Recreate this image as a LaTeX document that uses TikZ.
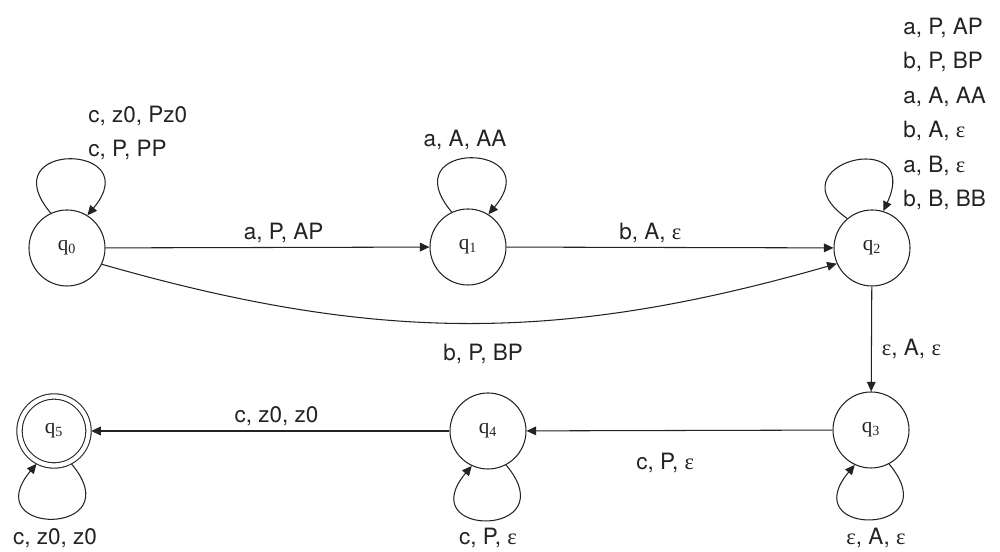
\documentclass[tikz,border=0pt]{standalone}
\usepackage{fontspec}
\setmainfont{TeX Gyre Heros}
\newfontfamily\serifq{Liberation Serif}
\newfontfamily\epsfam{Liberation Serif}
\newcommand{\myeps}{{\epsfam ε}}
\usetikzlibrary{arrows.meta}
\definecolor{ink}{RGB}{35,35,35}
\begin{document}
\begin{tikzpicture}[
  st/.style={circle, draw=ink, line width=0.6pt, minimum size=1.52cm, inner sep=0pt,
    font=\serifq\fontsize{12}{14}\selectfont, text=ink},
  acc/.style={st, minimum size=1.38cm, double, double distance=0.086cm, outer sep=0.054cm},
  tr/.style={draw=ink, line width=0.6pt, -{Triangle[length=5.5pt,width=5pt]}},
  lbl/.style={text=ink, font=\fontsize{12.8}{15}\selectfont, inner sep=0pt}]
\useasboundingbox (0,0) rectangle (20,11.04);
% states
\node[st] (q0) at (1.34,6.08) {q\textsubscript{0}};
\node[st] (q1) at (9.36,6.10) {q\textsubscript{1}};
\node[st] (q2) at (17.44,6.08) {q\textsubscript{2}};
\node[st] (q3) at (17.42,2.44) {q\textsubscript{3}};
\node[st] (q4) at (9.76,2.42) {q\textsubscript{4}};
\node[acc] (q5) at (1.08,2.42) {q\textsubscript{5}};
% transitions
\draw[tr] (q0) -- (q1) node[lbl, pos=0.55, anchor=base, yshift=0.15cm] (l01) {a, P, AP};
\draw[tr] (q1) -- (q2) node[lbl, pos=0.44, anchor=base, yshift=0.15cm] (l12) {b, A, \myeps};
\draw[tr] (q0.-25) to[out=-16, in=196] node[lbl, pos=0.52, anchor=base, yshift=-0.74cm] (l02) {b, P, BP} (q2.204);
\draw[tr] (q2) -- (q3) node[lbl, pos=0.656, anchor=base west, xshift=0.2cm] (l23) {\myeps, A, \myeps};
\draw[tr] (q3) -- (q4) node[lbl, pos=0.547, anchor=base, yshift=-0.78cm] (l34) {c, P, \myeps};
\draw[tr] (q4) -- (q5) node[lbl, pos=0.483, anchor=base, yshift=0.17cm] (l45) {c, z0, z0};
% loops
\draw[tr] (q0.115) .. controls +(130:1.9) and +(50:1.9) .. (q0.58);
\draw[tr] (q1.115) .. controls +(130:1.9) and +(50:1.9) .. (q1.58);
\draw[tr] (q2.130) .. controls +(145:1.9) and +(65:1.9) .. (q2.73);
\draw[tr] (q3.298) .. controls +(310:1.9) and +(230:1.9) .. (q3.245);
\draw[tr] (q4.298) .. controls +(310:1.9) and +(230:1.9) .. (q4.245);
\draw[tr] (q5.298) .. controls +(310:1.9) and +(230:1.9) .. (q5.242);
% loop labels
\node[lbl, anchor=base west] (lq0a) at (1.76,8.59) {c, z0, Pz0};
\node[lbl, anchor=base west] (lq0b) at (1.76,7.91) {c, P, PP};
\node[lbl, anchor=base] (lq1) at (9.30,8.11) {a, A, AA};
\node[lbl, anchor=base west] (lq2a) at (18.06,10.35) {a, P, AP};
\node[lbl, anchor=base west] (lq2b) at (18.06,9.66) {b, P, BP};
\node[lbl, anchor=base west] (lq2c) at (18.06,8.97) {a, A, AA};
\node[lbl, anchor=base west] (lq2d) at (18.06,8.28) {b, A, \myeps};
\node[lbl, anchor=base west] (lq2e) at (18.06,7.59) {a, B, \myeps};
\node[lbl, anchor=base west] (lq2f) at (18.06,6.90) {b, B, BB};
\node[lbl, anchor=base] (lq3) at (17.52,0.15) {\myeps, A, \myeps};
\node[lbl, anchor=base] (lq4) at (9.76,0.15) {c, P, \myeps};
\node[lbl, anchor=base] (lq5) at (1.10,0.15) {c, z0, z0};
\end{tikzpicture}
\end{document}
